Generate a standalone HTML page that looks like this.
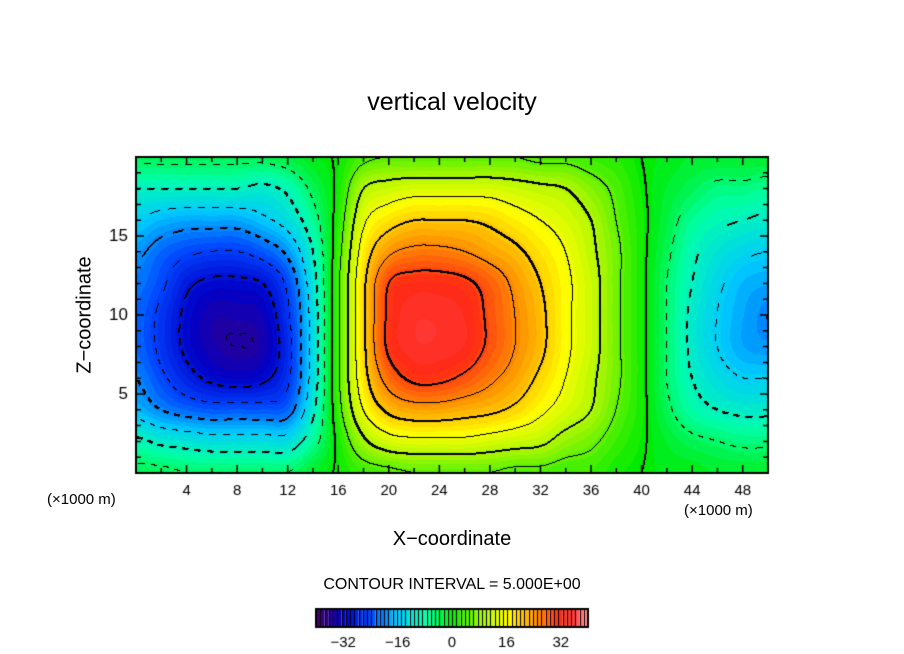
<!DOCTYPE html>
<html><head><meta charset="utf-8">
<style>
body{margin:0;background:#fff;width:904px;height:654px;position:relative;overflow:hidden;font-family:"Liberation Sans",sans-serif;}
.t{position:absolute;color:#000;white-space:nowrap;}
</style></head>
<body>
<div class="t" style="left:0;width:904px;text-align:center;top:88px;font-size:25px;">vertical velocity</div>
<canvas id="plot" width="904" height="654" style="position:absolute;left:0;top:0"></canvas>
<div class="t" style="left:85px;top:315px;font-size:20px;transform:translate(-50%,-50%) rotate(-90deg);">Z−coordinate</div>
<div class="t" style="left:0;width:904px;text-align:center;top:528px;font-size:20px;">X−coordinate</div>
<div class="t" style="left:47px;top:491px;font-size:15px;">(×1000 m)</div>
<div class="t" style="left:684px;top:502px;font-size:15px;">(×1000 m)</div>
<div class="t" style="left:0;width:904px;text-align:center;top:576px;font-size:16px;">CONTOUR INTERVAL = 5.000E+00</div>
<script>
const xs=[0,2,4,6,8,10,12,14,16,18,20,22,24,26,28,30,32,34,36,38,40,42,44,46,48,50];
const zs=[0,2,4,6,8,10,12,14,16,18,20];
const row0 =[-4,-4,-5,-5,-5,-5,-5,-2,0.5,3,4,5,5,5,5,4,4,3,3,1,0,-1,-1,-2,-2,-2];
const row2 =[-9,-11,-12,-13,-13,-13,-13,-7,1,9,13,14,14,14,13,12,11,8,6,3,0.5,-2,-4,-5,-6,-6];
const row4 =[-17,-20,-22,-23,-23,-23,-22,-11,3,15,21,23,23,22,21,19,16,13,10,5,1,-4,-8,-10,-11,-11];
const row6 =[-20,-24,-28,-31,-32,-31,-26,-13,4,18,27,31,31,29,26,23,19,15,11,6,1,-5,-10,-13,-15,-15];
const row8 =[-22,-26,-31,-34,-35,-34,-27,-13,4,19,31,34,34,33,29,25,21,16,12,6,1,-5,-11,-15,-18,-19];
const row10=[-22,-26,-31,-34,-34,-33,-26,-13,4,19,31,34,34,33,29,25,21,16,12,6,1,-5,-11,-15,-18,-20];
const row12=[-21,-24,-29,-31,-31,-30,-24,-12,4,19,30,32,32,31,28,24,20,16,12,6,1,-5,-10,-14,-17,-18];
const row14=[-19,-22,-24,-25,-25,-23,-19,-10,3,17,24,26,26,25,23,21,18,15,11,6,1,-4,-9,-12,-14,-15];
const row16=[-15,-17,-18,-18,-18,-16,-13,-7,2,14,18,20,20,20,19,17,15,13,10,5,1,-3,-7,-9,-10,-11];
const row18=[-10,-10,-10,-10,-10,-11,-9,-4,1,10,12,13,13,13,13,12,11,10,7,4,0.5,-2,-4,-6,-6,-7];
const row20=[-4,-4,-4,-4,-4,-4,-3,-1,0.5,4,5,5,5,5,5,5,4,4,3,2,0,-1,-2,-2,-2,-2];
const rows=[row0,row2,row4,row6,row8,row10,row12,row14,row16,row18,row20];
const xTicks=[4,8,12,16,20,24,28,32,36,40,44,48];
const yTicks=[5,10,15];
const cbTicks=[-32,-16,0,16,32];

const L=136,R=768,T=157,B=473,X0=0,X1=50,Z0=0,Z1=20;
const sx=v=>L+(v-X0)/(X1-X0)*(R-L);
const sz=v=>B-(v-Z0)/(Z1-Z0)*(B-T);
const stops=[[-40,[70,0,110]],[-36,[40,0,150]],[-32,[0,0,200]],[-24,[0,70,255]],[-16,[0,200,255]],[-8,[0,255,170]],[0,[0,235,0]],[8,[150,245,0]],[16,[255,255,0]],[24,[255,150,0]],[32,[255,40,20]],[36,[255,60,60]],[40,[255,160,160]]];
function col(v){
  if(v<=stops[0][0])return stops[0][1];
  for(let i=1;i<stops.length;i++){if(v<=stops[i][0]){const a=stops[i-1],b=stops[i];const t=(v-a[0])/(b[0]-a[0]);return a[1].map((c,k)=>Math.round(c+(b[1][k]-c)*t));}}
  return stops[stops.length-1][1];
}
function cr(p0,p1,p2,p3,t){return 0.5*((2*p1)+(-p0+p2)*t+(2*p0-5*p1+4*p2-p3)*t*t+(-p0+3*p1-3*p2+p3)*t*t*t);}
function field(x,z){
  let i=0;while(i<xs.length-2&&x>xs[i+1])i++;
  let j=0;while(j<zs.length-2&&z>zs[j+1])j++;
  const tx=Math.min(1,Math.max(0,(x-xs[i])/(xs[i+1]-xs[i]))),tz=Math.min(1,Math.max(0,(z-zs[j])/(zs[j+1]-zs[j])));
  const ci=k=>Math.min(xs.length-1,Math.max(0,k)),cj=k=>Math.min(zs.length-1,Math.max(0,k));
  const v=[];
  for(let m=-1;m<=2;m++){const r=rows[cj(j+m)];v.push(cr(r[ci(i-1)],r[ci(i)],r[ci(i+1)],r[ci(i+2)],tx));}
  return cr(v[0],v[1],v[2],v[3],tz);
}
const cv=document.getElementById('plot');const ctx=cv.getContext('2d');
const W=R-L,H=B-T;
const F=[];for(let py=0;py<H;py++){const r=[];for(let px=0;px<W;px++){r.push(field(X0+(px+0.5)/W*(X1-X0),Z1-(py+0.5)/H*(Z1-Z0)));}F.push(r);}
const img=ctx.createImageData(W,H);
const ink=new Uint8Array(W*H);
for(let py=0;py<H;py++)for(let px=0;px<W;px++){
  const v=F[py][px];const c=col(Math.round(v/1.25)*1.25);const o=(py*W+px)*4;
  img.data[o]=c[0];img.data[o+1]=c[1];img.data[o+2]=c[2];img.data[o+3]=255;
  const k=Math.floor(v/5);
  const nb=[[px+1,py],[px,py+1]];
  for(const [qx,qy] of nb){if(qx>=W||qy>=H)continue;const k2=Math.floor(F[qy][qx]/5);
    if(k2!==k){const lev=Math.max(k,k2)*5;
      if(lev<0&&Math.floor((px+py)/7)%2===1)continue;
      const thick=lev%10===0;
      ink[py*W+px]=1;if(thick){if(px+1<W)ink[py*W+px+1]=1;if(py+1<H)ink[(py+1)*W+px]=1;}
    }}
}
for(let i=0;i<W*H;i++)if(ink[i]){img.data[i*4]=0;img.data[i*4+1]=0;img.data[i*4+2]=0;}
ctx.putImageData(img,L,T);
ctx.strokeStyle='#000';ctx.lineWidth=2;ctx.strokeRect(L,T,W,H);
ctx.lineWidth=1.5;ctx.beginPath();
for(let x=2;x<X1;x+=2){const p=sx(x),len=(x%4===0)?8:5;ctx.moveTo(p,B);ctx.lineTo(p,B-len);ctx.moveTo(p,T);ctx.lineTo(p,T+len);}
for(let z=1;z<Z1;z++){const p=sz(z),len=(z%5===0)?8:5;ctx.moveTo(L,p);ctx.lineTo(L+len,p);ctx.moveTo(R,p);ctx.lineTo(R-len,p);}
ctx.stroke();
ctx.fillStyle='#000';ctx.font='15px "Liberation Sans", sans-serif';ctx.textAlign='center';ctx.textBaseline='middle';
xTicks.forEach(t=>ctx.fillText(t,sx(t),491));
ctx.font='17px "Liberation Sans", sans-serif';ctx.textAlign='right';
yTicks.forEach(t=>ctx.fillText(t,128,sz(t)));
const cbL=316,cbR=588,cbT=609,cbB=627,n=64;
for(let i=0;i<n;i++){const v=-40+(i+0.5)*80/n;const c=col(v);ctx.fillStyle=`rgb(${c[0]},${c[1]},${c[2]})`;const x0=cbL+i*(cbR-cbL)/n;ctx.fillRect(x0,cbT,(cbR-cbL)/n,cbB-cbT);
  ctx.fillStyle='#000';ctx.fillRect(Math.round(x0),cbT,1,cbB-cbT);}
ctx.lineWidth=2;ctx.strokeRect(cbL,cbT,cbR-cbL,cbB-cbT);
ctx.font='15px "Liberation Sans", sans-serif';ctx.textAlign='center';ctx.fillStyle='#000';
cbTicks.forEach(t=>ctx.fillText(t<0?'−'+(-t):t,cbL+(t+40)/80*(cbR-cbL),643));
</script>
</body></html>
